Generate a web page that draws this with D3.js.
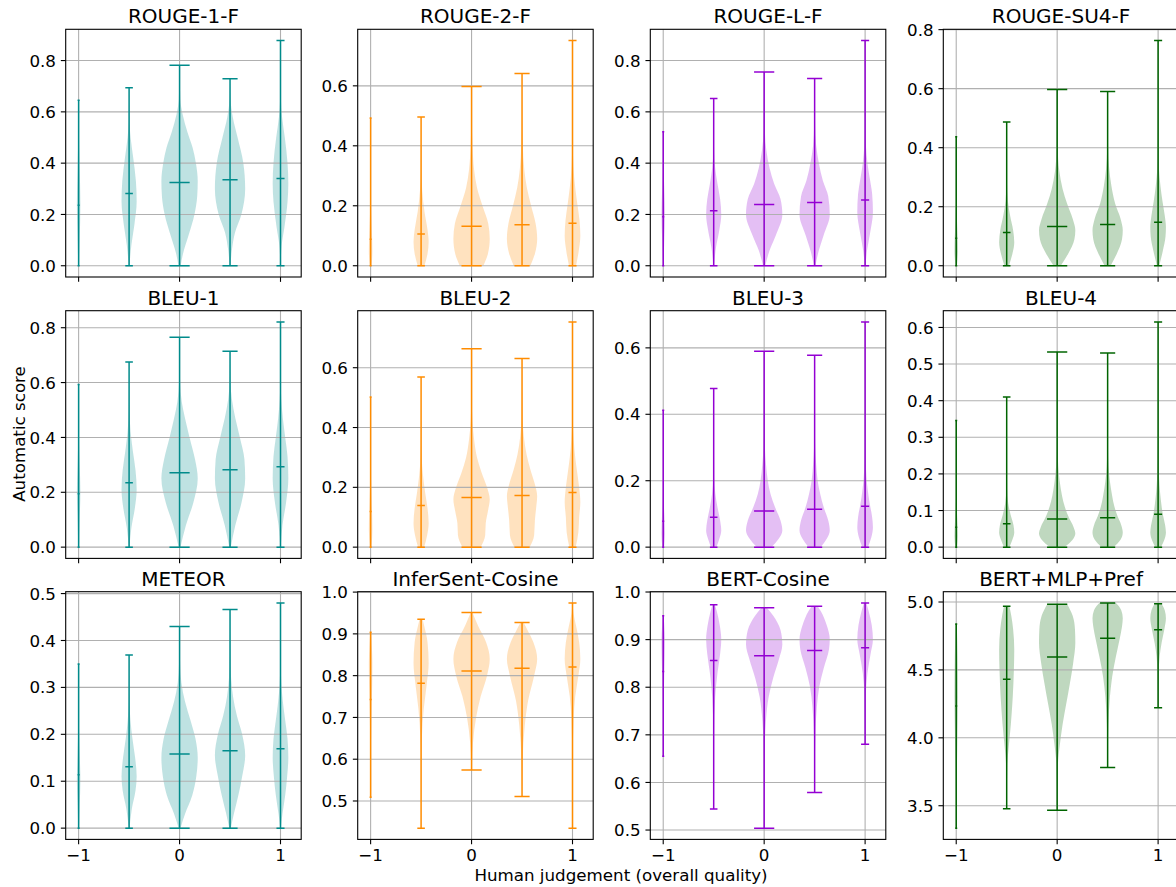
<!DOCTYPE html>
<html><head><meta charset="utf-8">
<script src="https://cdn.jsdelivr.net/npm/d3@7"></script>
<style>body{margin:0;background:#fff;overflow:hidden}svg{display:block;font-family:"DejaVu Sans",sans-serif}</style>
</head><body><svg id="c" width="1176" height="887"></svg>
<script>
// ---------- DATA ----------
const titles = ["ROUGE-1-F","ROUGE-2-F","ROUGE-L-F","ROUGE-SU4-F","BLEU-1","BLEU-2","BLEU-3","BLEU-4","METEOR","InferSent-Cosine","BERT-Cosine","BERT+MLP+Pref"];
const columnColors = ["#008b8b","#ff8c00","#9400d3","#006400"];
const judgements = [-1,-0.5,0,0.5,1];
const xTickValues = [-1,0,1];
const xTickLabels = ["\u22121","0","1"];
const violinWidths = [0.035,0.15,0.36,0.30,0.155];
const capWidths = [0.02,0.075,0.2,0.15,0.08];
const yTicks = [
  [0,0.2,0.4,0.6,0.8],[0,0.2,0.4,0.6],[0,0.2,0.4,0.6,0.8],[0,0.2,0.4,0.6,0.8],
  [0,0.2,0.4,0.6,0.8],[0,0.2,0.4,0.6],[0,0.2,0.4,0.6],[0,0.1,0.2,0.3,0.4,0.5,0.6],
  [0,0.1,0.2,0.3,0.4,0.5],[0.5,0.6,0.7,0.8,0.9,1.0],[0.5,0.6,0.7,0.8,0.9,1.0],[3.5,4.0,4.5,5.0]
];
const scoreMin = [
  [0,0,0,0,0],[0,0,0,0,0],[0,0,0,0,0],[0,0,0,0,0],
  [0,0,0,0,0],[0,0,0,0,0],[0,0,0,0,0],[0,0,0,0,0],
  [0,0,0,0,0],[0.509,0.435,0.574,0.511,0.435],[0.655,0.544,0.504,0.579,0.680],[3.335,3.478,3.466,3.782,4.222]
];
const scoreMax = [
  [0.645,0.694,0.782,0.729,0.878],[0.493,0.496,0.598,0.641,0.751],[0.522,0.652,0.755,0.730,0.878],[0.437,0.487,0.597,0.590,0.763],
  [0.593,0.675,0.765,0.714,0.821],[0.502,0.569,0.663,0.631,0.753],[0.412,0.478,0.590,0.578,0.678],[0.346,0.410,0.533,0.530,0.615],
  [0.350,0.369,0.430,0.466,0.480],[0.904,0.935,0.951,0.927,0.974],[0.950,0.973,0.967,0.970,0.977],[4.838,4.968,4.983,4.993,4.988]
];
const scoreMean = [
  [0.236,0.282,0.325,0.335,0.340],[0.088,0.106,0.132,0.137,0.142],[0.191,0.214,0.239,0.247,0.256],[0.093,0.113,0.133,0.140,0.147],
  [0.195,0.235,0.271,0.282,0.293],[0.119,0.139,0.166,0.173,0.183],[0.078,0.090,0.109,0.114,0.123],[0.054,0.064,0.077,0.080,0.090],
  [0.114,0.131,0.158,0.165,0.169],[0.743,0.782,0.811,0.818,0.821],[0.833,0.856,0.866,0.877,0.883],[4.234,4.431,4.595,4.733,4.796]
];
// density profiles: [score, relative width]
const shapeRouge1 = [
  [[0,0.2],[0.1,0.6],[0.24,1],[0.38,0.6],[0.5,0.2],[0.645,0]],
  [[0,0.05],[0.08,0.3],[0.16,0.7],[0.25,1],[0.33,0.9],[0.42,0.55],[0.5,0.2],[0.56,0.05],[0.694,0]],
  [[0,0.06],[0.05,0.2],[0.12,0.5],[0.2,0.82],[0.27,0.97],[0.33,1],[0.4,0.9],[0.46,0.72],[0.52,0.44],[0.59,0.17],[0.65,0.04],[0.782,0]],
  [[0,0.03],[0.06,0.12],[0.13,0.33],[0.2,0.75],[0.3,1],[0.4,0.88],[0.5,0.5],[0.58,0.18],[0.65,0.03],[0.729,0]],
  [[0,0.02],[0.08,0.15],[0.15,0.5],[0.25,0.9],[0.32,1],[0.4,0.9],[0.5,0.55],[0.58,0.2],[0.65,0.05],[0.878,0]]
];
const shapeRouge2 = [
  [[0,0.6],[0.05,1],[0.1,0.8],[0.18,0.3],[0.25,0.08],[0.35,0],[0.493,0]],
  [[0,0.45],[0.04,0.85],[0.08,1],[0.12,0.85],[0.18,0.45],[0.25,0.15],[0.32,0.04],[0.496,0]],
  [[0,0.65],[0.04,0.9],[0.09,1],[0.14,0.92],[0.2,0.6],[0.26,0.3],[0.32,0.14],[0.4,0.05],[0.5,0.01],[0.598,0]],
  [[0,0.55],[0.04,0.85],[0.09,1],[0.14,0.9],[0.2,0.6],[0.26,0.32],[0.32,0.15],[0.4,0.05],[0.5,0.01],[0.641,0]],
  [[0,0.45],[0.05,0.8],[0.1,1],[0.15,0.9],[0.2,0.65],[0.26,0.35],[0.33,0.12],[0.42,0.03],[0.751,0]]
];
const shapeRougeL = [
  [[0,0.1],[0.1,0.6],[0.2,1],[0.3,0.6],[0.4,0.15],[0.522,0]],
  [[0,0.05],[0.07,0.3],[0.14,0.75],[0.2,1],[0.26,0.85],[0.32,0.5],[0.38,0.2],[0.45,0.05],[0.652,0]],
  [[0,0.06],[0.06,0.3],[0.12,0.65],[0.2,1],[0.26,0.9],[0.32,0.55],[0.38,0.3],[0.45,0.12],[0.52,0.04],[0.755,0]],
  [[0,0.05],[0.06,0.28],[0.12,0.6],[0.2,1],[0.27,0.9],[0.33,0.55],[0.4,0.28],[0.47,0.1],[0.55,0.03],[0.73,0]],
  [[0,0.05],[0.06,0.25],[0.13,0.65],[0.21,1],[0.28,0.9],[0.34,0.6],[0.4,0.3],[0.47,0.1],[0.55,0.02],[0.878,0]]
];
const shapeRougeSU4 = [
  [[0,0.4],[0.05,1],[0.1,0.8],[0.17,0.3],[0.25,0.05],[0.437,0]],
  [[0,0.3],[0.04,0.75],[0.08,1],[0.12,0.85],[0.17,0.45],[0.22,0.15],[0.28,0.04],[0.487,0]],
  [[0,0.2],[0.04,0.6],[0.09,0.95],[0.12,1],[0.16,0.85],[0.21,0.55],[0.26,0.3],[0.32,0.12],[0.4,0.03],[0.597,0]],
  [[0,0.2],[0.04,0.6],[0.09,0.95],[0.12,1],[0.16,0.85],[0.21,0.5],[0.27,0.25],[0.33,0.1],[0.4,0.03],[0.59,0]],
  [[0,0.15],[0.05,0.6],[0.1,0.95],[0.13,1],[0.17,0.85],[0.22,0.55],[0.27,0.3],[0.33,0.1],[0.4,0.02],[0.763,0]]
];
const shapeBleu1 = [
  [[0,0.2],[0.1,0.6],[0.2,1],[0.3,0.6],[0.4,0.2],[0.593,0]],
  [[0,0.05],[0.07,0.3],[0.14,0.75],[0.21,1],[0.28,0.85],[0.35,0.5],[0.42,0.2],[0.5,0.05],[0.675,0]],
  [[0,0.05],[0.08,0.35],[0.16,0.75],[0.25,1],[0.32,0.85],[0.4,0.55],[0.47,0.3],[0.53,0.12],[0.6,0.03],[0.765,0]],
  [[0,0.05],[0.08,0.35],[0.16,0.75],[0.25,1],[0.32,0.95],[0.4,0.65],[0.47,0.35],[0.54,0.12],[0.6,0.03],[0.714,0]],
  [[0,0.03],[0.08,0.25],[0.16,0.7],[0.25,1],[0.33,0.9],[0.4,0.6],[0.47,0.3],[0.54,0.1],[0.6,0.03],[0.821,0]]
];
const shapeBleu2 = [
  [[0,0.5],[0.06,1],[0.12,0.8],[0.2,0.35],[0.28,0.08],[0.502,0]],
  [[0,0.4],[0.04,0.8],[0.08,1],[0.13,0.85],[0.18,0.55],[0.24,0.25],[0.3,0.08],[0.38,0.02],[0.569,0]],
  [[0,0.5],[0.04,0.75],[0.08,0.78],[0.12,0.9],[0.16,1],[0.2,0.85],[0.25,0.55],[0.3,0.3],[0.36,0.14],[0.42,0.05],[0.5,0.01],[0.663,0]],
  [[0,0.5],[0.04,0.8],[0.09,0.85],[0.14,0.95],[0.17,1],[0.21,0.85],[0.26,0.55],[0.31,0.3],[0.37,0.12],[0.43,0.04],[0.631,0]],
  [[0,0.4],[0.05,0.75],[0.1,0.85],[0.15,1],[0.2,0.85],[0.25,0.6],[0.3,0.35],[0.36,0.15],[0.43,0.04],[0.753,0]]
];
const shapeBleu3 = [
  [[0,0.5],[0.04,1],[0.08,0.8],[0.13,0.35],[0.2,0.08],[0.412,0]],
  [[0,0.35],[0.025,0.75],[0.05,1],[0.08,0.85],[0.12,0.5],[0.16,0.22],[0.21,0.07],[0.478,0]],
  [[0,0.4],[0.025,0.8],[0.05,1],[0.08,0.9],[0.12,0.6],[0.16,0.35],[0.2,0.2],[0.25,0.1],[0.3,0.04],[0.38,0.01],[0.59,0]],
  [[0,0.4],[0.025,0.8],[0.05,1],[0.08,0.9],[0.12,0.6],[0.16,0.37],[0.2,0.2],[0.25,0.1],[0.3,0.04],[0.38,0.01],[0.578,0]],
  [[0,0.35],[0.03,0.8],[0.06,1],[0.09,0.9],[0.13,0.6],[0.17,0.35],[0.21,0.18],[0.26,0.07],[0.32,0.02],[0.678,0]]
];
const shapeBleu4 = [
  [[0,0.5],[0.03,1],[0.06,0.8],[0.1,0.35],[0.15,0.08],[0.346,0]],
  [[0,0.35],[0.02,0.75],[0.04,1],[0.06,0.9],[0.09,0.5],[0.12,0.2],[0.16,0.05],[0.41,0]],
  [[0,0.4],[0.02,0.85],[0.037,1],[0.055,0.9],[0.08,0.65],[0.11,0.42],[0.14,0.27],[0.18,0.14],[0.22,0.06],[0.28,0.02],[0.533,0]],
  [[0,0.4],[0.02,0.85],[0.04,1],[0.06,0.9],[0.085,0.65],[0.11,0.45],[0.14,0.3],[0.18,0.15],[0.22,0.06],[0.28,0.02],[0.53,0]],
  [[0,0.35],[0.02,0.8],[0.04,1],[0.06,0.9],[0.09,0.6],[0.12,0.4],[0.15,0.25],[0.19,0.12],[0.24,0.04],[0.3,0.01],[0.615,0]]
];
const shapeMeteor = [
  [[0,0.2],[0.05,0.6],[0.1,1],[0.15,0.7],[0.2,0.3],[0.25,0.08],[0.35,0]],
  [[0,0.05],[0.04,0.35],[0.08,0.85],[0.11,1],[0.15,0.8],[0.19,0.45],[0.23,0.18],[0.27,0.05],[0.369,0]],
  [[0,0.05],[0.03,0.3],[0.07,0.7],[0.11,0.92],[0.15,1],[0.19,0.88],[0.23,0.6],[0.27,0.3],[0.31,0.1],[0.35,0.03],[0.43,0]],
  [[0,0.05],[0.03,0.25],[0.07,0.55],[0.11,0.8],[0.155,1],[0.2,0.8],[0.24,0.45],[0.28,0.2],[0.32,0.07],[0.37,0.02],[0.466,0]],
  [[0,0.03],[0.03,0.25],[0.07,0.6],[0.11,0.85],[0.15,1],[0.19,0.9],[0.23,0.6],[0.27,0.3],[0.31,0.1],[0.36,0.02],[0.48,0]]
];
const shapeInferSent = [
  [[0.509,0],[0.6,0.1],[0.7,0.45],[0.78,0.9],[0.83,1],[0.87,0.7],[0.904,0.3]],
  [[0.435,0],[0.55,0.02],[0.65,0.1],[0.72,0.35],[0.78,0.75],[0.83,1],[0.88,0.85],[0.92,0.4],[0.935,0.2]],
  [[0.574,0.02],[0.64,0.08],[0.7,0.25],[0.75,0.5],[0.8,0.85],[0.84,1],[0.88,0.8],[0.92,0.35],[0.951,0.05]],
  [[0.511,0],[0.6,0.04],[0.68,0.18],[0.74,0.4],[0.8,0.8],[0.84,1],[0.88,0.75],[0.91,0.35],[0.927,0.1]],
  [[0.435,0],[0.6,0.03],[0.7,0.15],[0.75,0.35],[0.8,0.75],[0.84,1],[0.88,0.85],[0.92,0.45],[0.95,0.12],[0.974,0.02]]
];
const shapeBertCosine = [
  [[0.655,0.02],[0.75,0.15],[0.82,0.55],[0.87,0.9],[0.9,1],[0.93,0.6],[0.95,0.25]],
  [[0.544,0],[0.7,0.04],[0.78,0.2],[0.83,0.5],[0.87,0.85],[0.9,1],[0.93,0.8],[0.96,0.4],[0.973,0.15]],
  [[0.504,0],[0.65,0.02],[0.73,0.1],[0.78,0.25],[0.82,0.5],[0.86,0.82],[0.89,1],[0.92,0.9],[0.95,0.5],[0.967,0.15]],
  [[0.579,0],[0.7,0.05],[0.76,0.15],[0.8,0.3],[0.84,0.6],[0.88,0.95],[0.9,1],[0.93,0.8],[0.96,0.4],[0.97,0.2]],
  [[0.68,0],[0.78,0.08],[0.83,0.3],[0.87,0.7],[0.9,1],[0.93,0.85],[0.96,0.45],[0.977,0.15]]
];
const shapeBertMlpPref = [
  [[3.335,0.05],[3.7,0.3],[4.0,0.7],[4.3,1],[4.6,0.8],[4.838,0.3]],
  [[3.478,0],[3.8,0.08],[3.95,0.3],[4.1,0.55],[4.3,0.8],[4.5,0.95],[4.65,1],[4.8,0.85],[4.9,0.6],[4.968,0.35]],
  [[3.466,0],[3.8,0.04],[3.95,0.15],[4.1,0.3],[4.25,0.5],[4.4,0.7],[4.55,0.88],[4.7,1],[4.8,0.98],[4.9,0.85],[4.983,0.55]],
  [[3.782,0],[4.1,0.05],[4.3,0.15],[4.45,0.3],[4.6,0.55],[4.72,0.78],[4.82,0.95],[4.88,1],[4.94,0.9],[4.993,0.55]],
  [[4.222,0],[4.45,0.05],[4.6,0.2],[4.7,0.45],[4.8,0.8],[4.88,1],[4.94,0.85],[4.988,0.45]]
];
const shapes = [shapeRouge1,shapeRouge2,shapeRougeL,shapeRougeSU4,shapeBleu1,shapeBleu2,shapeBleu3,shapeBleu4,shapeMeteor,shapeInferSent,shapeBertCosine,shapeBertMlpPref];

// ---------- LAYOUT ----------
const svg = d3.select("#c");
const colLeft = [65.7,357.7,650.3,943.3], rowTop = [29.3,310.7,591.7];
const W = 235.5, H = 247.7;
const tickLen = 4.86, tickPad = 4.86, fs = 16.7;
const x = d3.scaleLinear().domain([-1.128,1.205]).range([0,W]);
const fmt = v => d3.format(".1f")(v).replace("-", "\u2212");

titles.forEach((title,i) => {
  const r = Math.floor(i/4), c = i%4;
  const col = columnColors[c];
  const g = svg.append("g").attr("transform",`translate(${colLeft[c]},${rowTop[r]})`);
  const lo = d3.min(scoreMin[i]), hi = d3.max(scoreMax[i]), pad = (hi-lo)*0.05;
  const y = d3.scaleLinear().domain([lo-pad, hi+pad]).range([H,0]);
  const clipId = "clip"+i;
  g.append("clipPath").attr("id",clipId).append("rect").attr("width",W).attr("height",H);
  const inner = g.append("g").attr("clip-path",`url(#${clipId})`);

  // violin bodies
  shapes[i].forEach((prof,j) => {
    const hw = violinWidths[j]/2, p = judgements[j];
    const area = d3.area().curve(d3.curveMonotoneY)
      .y(d => y(d[0])).x0(d => x(p - d[1]*hw)).x1(d => x(p + d[1]*hw));
    inner.append("path").attr("d", area(prof)).attr("fill", col).attr("fill-opacity", 0.25);
  });

  // grid
  yTicks[i].forEach(t => {
    inner.append("line").attr("x1",0).attr("x2",W).attr("y1",y(t)).attr("y2",y(t))
      .attr("stroke","#b0b0b0").attr("stroke-width",1.1);
  });
  xTickValues.forEach(t => {
    inner.append("line").attr("x1",x(t)).attr("x2",x(t)).attr("y1",0).attr("y2",H)
      .attr("stroke","#b0b0b0").attr("stroke-width",1.1);
  });

  // whiskers, caps, means
  judgements.forEach((p,j) => {
    const cw = capWidths[j]/2;
    const lw = 1.5;
    inner.append("line").attr("x1",x(p)).attr("x2",x(p))
      .attr("y1",y(scoreMin[i][j])).attr("y2",y(scoreMax[i][j])).attr("stroke",col).attr("stroke-width",lw);
    [scoreMin[i][j], scoreMax[i][j], scoreMean[i][j]].forEach(v => {
      inner.append("line").attr("x1",x(p-cw)).attr("x2",x(p+cw)).attr("y1",y(v)).attr("y2",y(v))
        .attr("stroke",col).attr("stroke-width",lw);
    });
  });

  // spines
  g.append("rect").attr("width",W).attr("height",H).attr("fill","none").attr("stroke","#000").attr("stroke-width",1.1);

  // y ticks
  yTicks[i].forEach(t => {
    g.append("line").attr("x1",-tickLen).attr("x2",0).attr("y1",y(t)).attr("y2",y(t))
      .attr("stroke","#000").attr("stroke-width",1.1);
    g.append("text").attr("x",-tickLen-tickPad).attr("y",y(t)+0.3645*fs)
      .attr("text-anchor","end").attr("font-size",fs).attr("fill","#000").text(fmt(t));
  });
  // x ticks
  xTickValues.forEach((t,k) => {
    g.append("line").attr("x1",x(t)).attr("x2",x(t)).attr("y1",H).attr("y2",H+tickLen)
      .attr("stroke","#000").attr("stroke-width",1.1);
    if (r === 2) {
      g.append("text").attr("x",x(t)).attr("y",H+tickLen+tickPad+0.729*fs)
        .attr("text-anchor","middle").attr("font-size",fs).attr("fill","#000").text(xTickLabels[k]);
    }
  });
  // title
  g.append("text").attr("x",W/2).attr("y",-6).attr("text-anchor","middle")
    .attr("font-size",20).attr("fill","#000").text(title);
});

// axis labels
svg.append("text").attr("x",621).attr("y",881).attr("text-anchor","middle")
  .attr("font-size",fs).attr("fill","#000").text("Human judgement (overall quality)");
svg.append("text").attr("transform","translate(25,434) rotate(-90)").attr("text-anchor","middle")
  .attr("font-size",fs).attr("fill","#000").text("Automatic score");
</script>
</body></html>
